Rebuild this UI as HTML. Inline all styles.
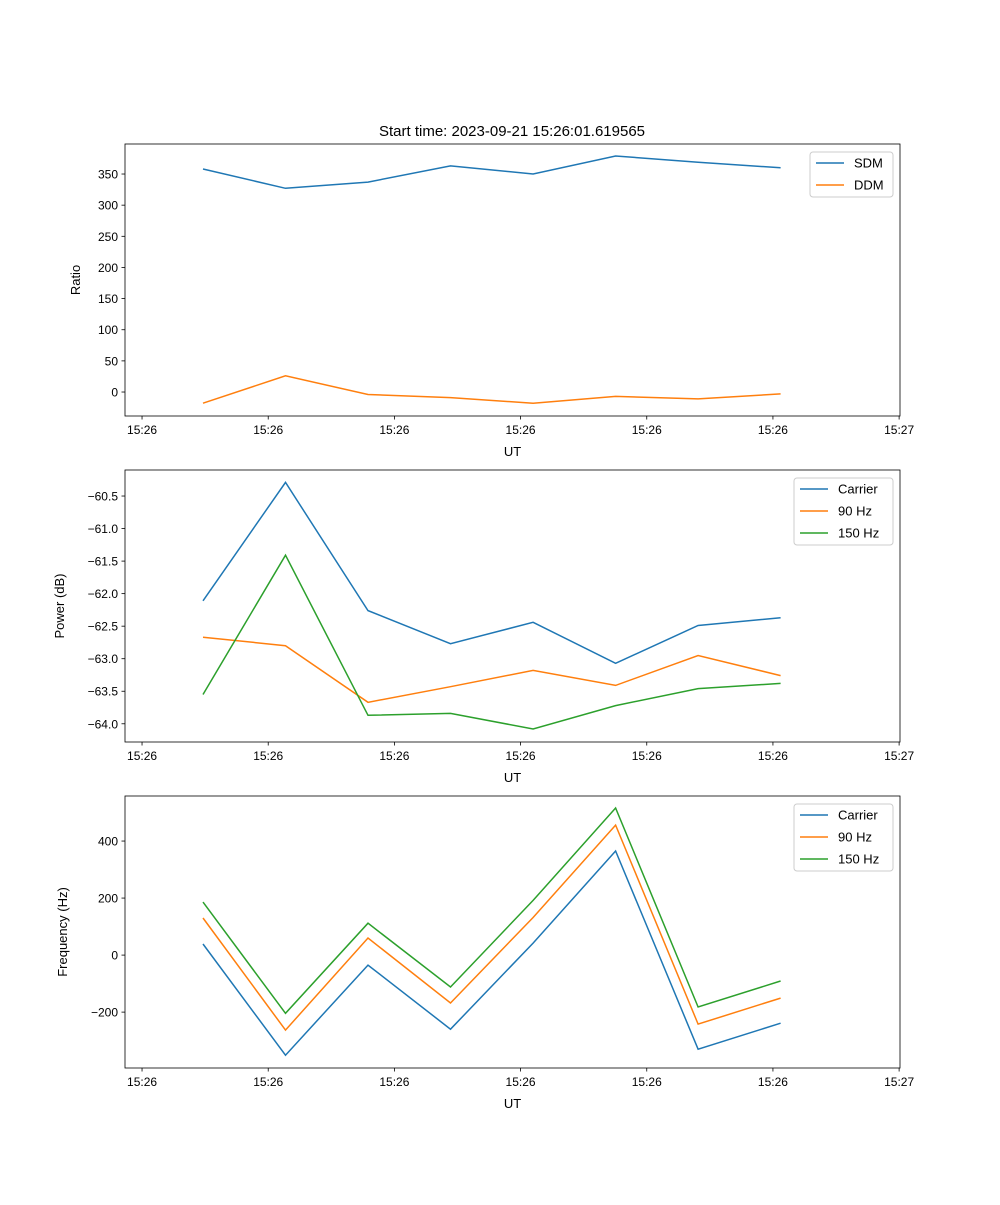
<!DOCTYPE html>
<html><head><meta charset="utf-8">
<style>
body{margin:0;background:#fff;font-family:"Liberation Sans","DejaVu Sans",sans-serif;}
svg text{font-family:"Liberation Sans","DejaVu Sans",sans-serif;}
</style></head>
<body>
<svg id="fig" width="1000" height="1200" xmlns="http://www.w3.org/2000/svg">
<text x="512" y="136" font-size="15" text-anchor="middle">Start time: 2023-09-21 15:26:01.619565</text>
</svg>
<script>
// x values: seconds from first tick
const sampleTimes = [0.483, 1.137, 1.791, 2.445, 3.099, 3.753, 4.407, 5.061];
const xTickValues = [0, 1, 2, 3, 4, 5, 6];
const xTickLabels = ["15:26","15:26","15:26","15:26","15:26","15:26","15:27"];
const sdm = [358, 327, 337, 363, 350, 379, 369, 360];
const ddm = [-18, 26, -4, -9, -18, -7, -11, -3];
const powCarrier = [-62.11, -60.29, -62.26, -62.77, -62.44, -63.07, -62.49, -62.37];
const pow90 = [-62.67, -62.8, -63.67, -63.43, -63.18, -63.41, -62.95, -63.26];
const pow150 = [-63.55, -61.41, -63.87, -63.84, -64.08, -63.72, -63.46, -63.38];
const freqCarrier = [39, -351, -35, -260, 42, 365, -330, -239];
const freq90 = [130, -263, 60, -168, 132, 456, -242, -151];
const freq150 = [186, -204, 112, -112, 192, 516, -182, -91];
const ratioTicks = [0, 50, 100, 150, 200, 250, 300, 350];
const powerTicks = [-64.0, -63.5, -63.0, -62.5, -62.0, -61.5, -61.0, -60.5];
const freqTicks = [-200, 0, 200, 400];

const NS = "http://www.w3.org/2000/svg";
const svg = document.getElementById("fig");
const C = {blue:"#1f77b4", orange:"#ff7f0e", green:"#2ca02c"};
function mk(tag, attrs, parent){
  const e = document.createElementNS(NS, tag);
  for (const k in attrs) e.setAttribute(k, attrs[k]);
  (parent||svg).appendChild(e); return e;
}
const minus = s => s.replace("-", "\u2212");
const L = 125, R = 900, xMin = -0.135, xMax = 6.007;
const xs = v => L + (v - xMin) / (xMax - xMin) * (R - L);

function panel(name, top, yMin, yMax, yTicks, fmt, ylabel, series, legend){
  const bot = top + 272;
  const ys = v => bot - (v - yMin) / (yMax - yMin) * (bot - top);
  const g = mk("g", {});
  
  
  series.forEach(s => {
    const pts = s.data.map((v,i) => xs(sampleTimes[i]).toFixed(1) + "," + ys(v).toFixed(1)).join(" ");
    const pl = mk("polyline", {points: pts, fill:"none", stroke:s.color, "stroke-width":1.5}, g);
    
    
  });
  const frame = mk("rect", {x:L, y:top, width:R-L, height:bot-top, fill:"none", stroke:"#000", "stroke-width":0.8}, g);
  
  
  xTickValues.forEach((v,i) => {
    const x = xs(v);
    mk("line", {x1:x, x2:x, y1:bot, y2:bot+3.5, stroke:"#000", "stroke-width":0.8}, g);
    const t = mk("text", {x:x, y:bot+18, "font-size":12, "text-anchor":"middle"}, g);
    t.textContent = xTickLabels[i];
    
    
  });
  yTicks.forEach(v => {
    const y = ys(v);
    mk("line", {x1:L-3.5, x2:L, y1:y, y2:y, stroke:"#000", "stroke-width":0.8}, g);
    const t = mk("text", {x:L-7, y:y+4.5, "font-size":12, "text-anchor":"end"}, g);
    t.textContent = minus(fmt(v));
    
    
  });
  const xl = mk("text", {x:(L+R)/2, y:bot+40, "font-size":13, "text-anchor":"middle"}, g);
  xl.textContent = "UT";
  
  
  const yl = mk("text", {x:0, y:0, "font-size":13, "text-anchor":"middle", transform:`translate(${legend.ylx},${(top+bot)/2}) rotate(-90)`}, g);
  yl.textContent = ylabel;
  
  
  const lg = mk("g", {}, g);
  
  
  const lx = legend.x, ly = top + 8, lw = R - 7 - lx, lh = series.length * 22 + 1;
  mk("rect", {x:lx, y:ly, width:lw, height:lh, rx:3, fill:"#fff", "fill-opacity":0.8, stroke:"#ccc", "stroke-width":1}, lg);
  series.forEach((s,i) => {
    const yy = ly + 11 + i*22;
    mk("line", {x1:lx+6, x2:lx+34, y1:yy, y2:yy, stroke:s.color, "stroke-width":1.5}, lg);
    const t = mk("text", {x:lx+44, y:yy+4.5, "font-size":13}, lg);
    t.textContent = s.label;
    
    
  });
}

panel("ratio", 144, -38.5, 398.2, ratioTicks, v => String(v), "Ratio",
  [{key:"sdm", label:"SDM", color:C.blue, data:sdm},{key:"ddm", label:"DDM", color:C.orange, data:ddm}],
  {x:810, ylx:80});
panel("power", 470, -64.28, -60.1, powerTicks, v => v.toFixed(1), "Power (dB)",
  [{key:"carrier", label:"Carrier", color:C.blue, data:powCarrier},{key:"90hz", label:"90 Hz", color:C.orange, data:pow90},{key:"150hz", label:"150 Hz", color:C.green, data:pow150}],
  {x:794, ylx:64});
panel("frequency", 796, -396, 558, freqTicks, v => String(v), "Frequency (Hz)",
  [{key:"carrier", label:"Carrier", color:C.blue, data:freqCarrier},{key:"90hz", label:"90 Hz", color:C.orange, data:freq90},{key:"150hz", label:"150 Hz", color:C.green, data:freq150}],
  {x:794, ylx:67});
</script>
</body></html>
